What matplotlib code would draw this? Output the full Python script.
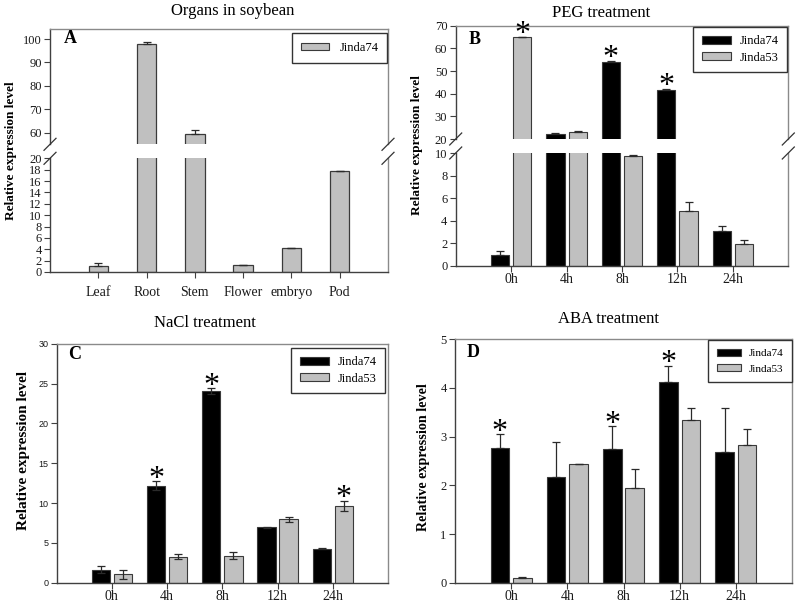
import numpy as np
import matplotlib
matplotlib.use("Agg")
import matplotlib.pyplot as plt
from matplotlib.lines import Line2D
from matplotlib.patches import Patch

plt.rcParams["font.family"] = ["Liberation Serif", "DejaVu Serif"]

# ----------------------------
# DATA
# ----------------------------

organs = ["Leaf", "Root", "Stem", "Flower", "embryo", "Pod"]
organ_vals = [1.05, 97.7, 59.6, 1.15, 4.2, 17.7]
organ_err = [0.45, 0.9, 1.4, 0.1, 0.08, 0.1]

times = ["0h", "4h", "8h", "12h", "24h"]

peg_j74 = [0.98, 22.35, 54.1, 41.8, 3.1]
peg_j74_err = [0.35, 0.5, 0.5, 0.3, 0.45]
peg_j53 = [64.8, 22.9, 9.73, 4.88, 1.95]
peg_j53_err = [0.3, 0.5, 0.12, 0.8, 0.33]
peg_stars = [("j53", 0), ("j74", 2), ("j74", 3)]

nacl_j74 = [1.65, 12.2, 24.05, 6.95, 4.25]
nacl_j74_err = [0.46, 0.55, 0.35, 0.1, 0.05]
nacl_j53 = [1.03, 3.25, 3.38, 7.95, 9.65]
nacl_j53_err = [0.6, 0.3, 0.45, 0.35, 0.65]
nacl_stars = [("j74", 1), ("j74", 2), ("j53", 4)]

aba_j74 = [2.77, 2.18, 2.75, 4.13, 2.68]
aba_j74_err = [0.28, 0.72, 0.46, 0.33, 0.9]
aba_j53 = [0.1, 2.44, 1.95, 3.34, 2.82]
aba_j53_err = [0.02, 0.0, 0.38, 0.24, 0.33]
aba_stars = [("j74", 0), ("j74", 2), ("j74", 3)]

# ----------------------------
# STYLE
# ----------------------------

W, H = 798, 609
GRAY = "#c0c0c0"
BLACK = "#000000"
EDGE = "#3a3a3a"
SPINE_DARK = "#404040"
SPINE_LIGHT = "#8a8a8a"
OFF = 0.2
BW = 0.33

fig = plt.figure(figsize=(W / 100, H / 100), dpi=100)


def rect(l, r, t, b):
    return [l / W, 1 - b / H, (r - l) / W, (b - t) / H]


def style_ax(ax, ysize=9, yfont=None, xpad=1.5):
    for s in ["left", "bottom"]:
        ax.spines[s].set_color(SPINE_DARK)
    for s in ["top", "right"]:
        ax.spines[s].set_color(SPINE_LIGHT)
    for s in ax.spines.values():
        s.set_linewidth(1.0)
    ax.tick_params(direction="out", length=4, width=0.8, color=SPINE_DARK,
                   labelcolor="#1a1a1a")
    ax.tick_params(axis="y", labelsize=ysize, pad=2)
    ax.tick_params(axis="x", labelsize=10, pad=xpad)
    if yfont:
        for lab in ax.get_yticklabels():
            lab.set_family(yfont)


def err(ax, x, y, e, two_sided=False):
    e = np.array(e)
    lower = e if two_sided else np.zeros_like(e)
    ax.errorbar(x, y, yerr=[lower, e], fmt="none", ecolor="#2a2a2a",
                elinewidth=0.9, capsize=3, capthick=0.9, zorder=3)


def slash(xp, yp):
    d = 6
    fig.add_artist(Line2D([(xp - d) / W, (xp + d) / W],
                          [1 - (yp + d) / H, 1 - (yp - d) / H],
                          color="#333333", lw=0.9))


def star(ax, x, top):
    ax.annotate("*", xy=(x, top), xytext=(0, -4), textcoords="offset points",
                ha="center", va="baseline", fontsize=23, annotation_clip=False,
                zorder=5)


def legend_two(ax, right, top, size, hl=2.4, spacing=0.35, bpad=0.6):
    handles = [Patch(facecolor=BLACK, edgecolor=EDGE, lw=0.8, label="Jinda74"),
               Patch(facecolor=GRAY, edgecolor=EDGE, lw=0.8, label="Jinda53")]
    leg = ax.legend(handles=handles, loc="upper right",
                    bbox_to_anchor=(right / W, 1 - top / H),
                    bbox_transform=fig.transFigure, borderaxespad=0,
                    fancybox=False, edgecolor="#333333", fontsize=size,
                    handlelength=hl, handleheight=0.55, labelspacing=spacing,
                    borderpad=bpad, handletextpad=0.7, framealpha=1)
    leg.get_frame().set_linewidth(1.0)


# ----------------------------
# A: ORGANS (broken axis)
# ----------------------------

xa = np.arange(len(organs))
axA_top = fig.add_axes(rect(50, 388, 29.3, 144.3))
axA_bot = fig.add_axes(rect(50, 388, 158.3, 272))

for ax in (axA_top, axA_bot):
    ax.bar(xa, organ_vals, width=0.4, color=GRAY, edgecolor=EDGE, lw=0.9,
           label="Jinda74", zorder=2)
    err(ax, xa, organ_vals, organ_err)
    ax.set_xlim(-1, 6)
    style_ax(ax, xpad=6)

axA_top.set_ylim(55, 104.2)
axA_top.set_yticks([60, 70, 80, 90, 100])
axA_top.spines["bottom"].set_visible(False)
axA_top.tick_params(axis="x", bottom=False, labelbottom=False)
axA_bot.set_ylim(0, 20)
axA_bot.set_yticks(np.arange(0, 21, 2))
axA_bot.spines["top"].set_visible(False)
axA_bot.set_xticks(xa)
axA_bot.set_xticklabels(organs)

for xp in (50, 388):
    slash(xp, 144.3)
    slash(xp, 158.3)

legA = axA_top.legend(handles=[Patch(facecolor=GRAY, edgecolor=EDGE, lw=0.8,
                                     label="Jinda74")],
                      loc="upper right", bbox_to_anchor=(387 / W, 1 - 33 / H),
                      bbox_transform=fig.transFigure, borderaxespad=0,
                      fancybox=False, edgecolor="#333333", fontsize=9,
                      handlelength=2.3, handleheight=0.55, borderpad=0.7,
                      handletextpad=0.8, framealpha=1)
legA.get_frame().set_linewidth(1.0)
axA_top.text(0.04, 0.92, "A", transform=axA_top.transAxes, fontsize=13,
             fontweight="bold", va="center", ha="left")

# ----------------------------
# B: PEG (broken axis)
# ----------------------------

xt = np.arange(len(times))
axB_top = fig.add_axes(rect(455.7, 788.3, 25.7, 139))
axB_bot = fig.add_axes(rect(455.7, 788.3, 153, 265.7))

for ax in (axB_top, axB_bot):
    ax.bar(xt - OFF, peg_j74, width=BW, color=BLACK, edgecolor=EDGE, lw=0.8,
           zorder=2)
    ax.bar(xt + OFF, peg_j53, width=BW, color=GRAY, edgecolor=EDGE, lw=0.8,
           zorder=2)
    err(ax, xt - OFF, peg_j74, peg_j74_err)
    err(ax, xt + OFF, peg_j53, peg_j53_err)
    ax.set_xlim(-1, 5)
    style_ax(ax)

axB_top.set_ylim(20, 70)
axB_top.set_yticks([20, 30, 40, 50, 60, 70])
axB_top.spines["bottom"].set_visible(False)
axB_top.tick_params(axis="x", bottom=False, labelbottom=False)
axB_bot.set_ylim(0, 10)
axB_bot.set_yticks(np.arange(0, 11, 2))
axB_bot.spines["top"].set_visible(False)
axB_bot.set_xticks(xt)
axB_bot.set_xticklabels(times)

for xp in (455.7, 788.3):
    slash(xp, 139)
    slash(xp, 153)

for who, i in peg_stars:
    if who == "j74":
        star(axB_top, xt[i] - OFF, peg_j74[i] + peg_j74_err[i])
    else:
        star(axB_top, xt[i] + OFF, peg_j53[i] + peg_j53_err[i])

legend_two(axB_top, 787, 26.5, 9, hl=2.3, bpad=0.7)
axB_top.text(0.04, 0.88, "B", transform=axB_top.transAxes, fontsize=13,
             fontweight="bold", va="center", ha="left")

# ----------------------------
# C: NaCl
# ----------------------------

axC = fig.add_axes(rect(56.7, 388, 343.7, 582.7))
axC.bar(xt - OFF, nacl_j74, width=BW, color=BLACK, edgecolor=EDGE, lw=0.8,
        zorder=2)
axC.bar(xt + OFF, nacl_j53, width=BW, color=GRAY, edgecolor=EDGE, lw=0.8,
        zorder=2)
err(axC, xt - OFF, nacl_j74, nacl_j74_err, two_sided=True)
err(axC, xt + OFF, nacl_j53, nacl_j53_err, two_sided=True)
axC.set_xlim(-1, 5)
axC.set_ylim(0, 30)
axC.set_yticks(np.arange(0, 31, 5))
axC.set_xticks(xt)
axC.set_xticklabels(times)
style_ax(axC, ysize=6.5, yfont="Liberation Sans")
for who, i in nacl_stars:
    if who == "j74":
        star(axC, xt[i] - OFF, nacl_j74[i] + nacl_j74_err[i])
    else:
        star(axC, xt[i] + OFF, nacl_j53[i] + nacl_j53_err[i])
legend_two(axC, 385, 347.5, 9, hl=2.3, bpad=0.7)
axC.text(0.035, 0.955, "C", transform=axC.transAxes, fontsize=13,
         fontweight="bold", va="center", ha="left")

# ----------------------------
# D: ABA
# ----------------------------

axD = fig.add_axes(rect(455, 792, 339.3, 582.7))
axD.bar(xt - OFF, aba_j74, width=BW, color=BLACK, edgecolor=EDGE, lw=0.8,
        zorder=2)
axD.bar(xt + OFF, aba_j53, width=BW, color=GRAY, edgecolor=EDGE, lw=0.8,
        zorder=2)
err(axD, xt - OFF, aba_j74, aba_j74_err)
err(axD, xt + OFF, aba_j53, aba_j53_err)
axD.set_xlim(-1, 5)
axD.set_ylim(0, 5)
axD.set_yticks(np.arange(0, 6, 1))
axD.set_xticks(xt)
axD.set_xticklabels(times)
style_ax(axD)
for who, i in aba_stars:
    star(axD, xt[i] - OFF, aba_j74[i] + aba_j74_err[i])
legend_two(axD, 792, 340, 8, hl=2.1, spacing=0.55, bpad=0.8)
axD.text(0.035, 0.945, "D", transform=axD.transAxes, fontsize=13,
         fontweight="bold", va="center", ha="left")

# ----------------------------
# TITLES AND Y LABELS
# ----------------------------

fig.text(233 / W, 1 - 11 / H, "Organs in soybean", fontsize=12,
         ha="center", va="center")
fig.text(601 / W, 1 - 13 / H, "PEG treatment", fontsize=12,
         ha="center", va="center")
fig.text(205 / W, 1 - 323 / H, "NaCl treatment", fontsize=12,
         ha="center", va="center")
fig.text(608 / W, 1 - 319 / H, "ABA treatment", fontsize=12,
         ha="center", va="center")

ylab = "Relative expression level"
fig.text(11 / W, 1 - 151 / H, ylab, rotation=90, fontsize=9.5,
         fontweight="bold", ha="center", va="center")
fig.text(417 / W, 1 - 145 / H, ylab, rotation=90, fontsize=9.6,
         fontweight="bold", ha="center", va="center")
fig.text(24 / W, 1 - 450 / H, ylab, rotation=90, fontsize=11,
         fontweight="bold", ha="center", va="center")
fig.text(424 / W, 1 - 457 / H, ylab, rotation=90, fontsize=10.2,
         fontweight="bold", ha="center", va="center")

fig.savefig("out.png", dpi=100)
